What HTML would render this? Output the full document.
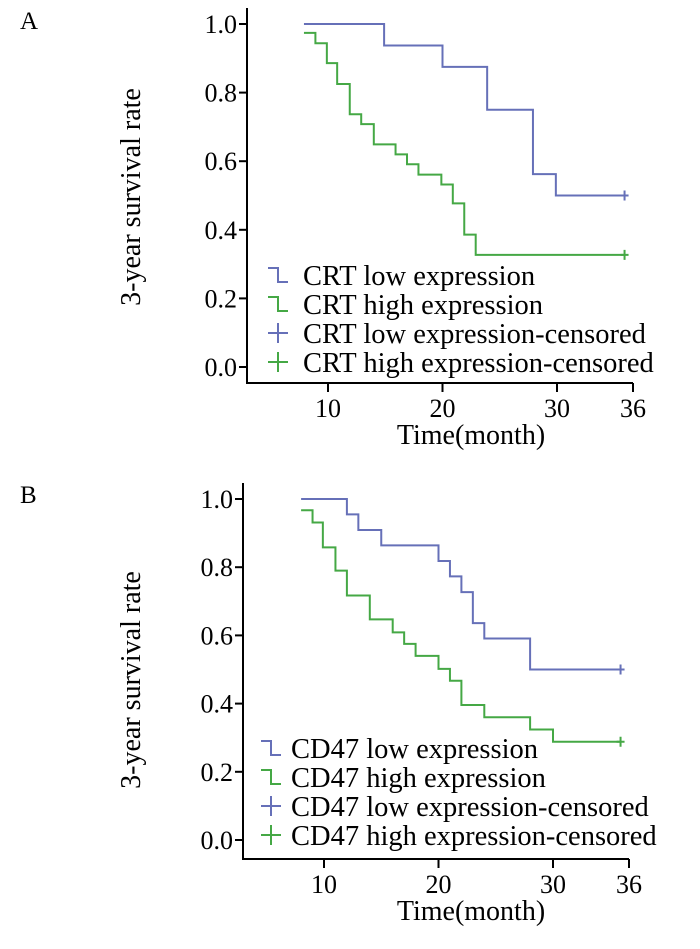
<!DOCTYPE html>
<html><head><meta charset="utf-8"><style>
html,body{margin:0;padding:0;background:#fff;}
svg{display:block;font-family:"Liberation Serif",serif;}
</style></head><body>
<svg id="chart" width="700" height="949" viewBox="0 0 700 949" xmlns="http://www.w3.org/2000/svg"></svg>
<script>
// Panel A (CRT)
const aLowTimes = [7.9, 14.9, 20.0, 23.9, 27.9, 29.9];
const aLowValues = [1.0, 0.9375, 0.875, 0.75, 0.5625, 0.5];
const aHighTimes = [7.9, 8.9, 9.9, 10.8, 11.9, 12.9, 14.0, 15.9, 16.9, 17.9, 19.9, 20.9, 21.9, 22.9];
const aHighValues = [0.974, 0.944, 0.886, 0.825, 0.737, 0.708, 0.649, 0.620, 0.591, 0.561, 0.532, 0.477, 0.386, 0.327];
// Panel B (CD47)
const bLowTimes = [8.0, 12.0, 13.0, 15.0, 20.0, 21.0, 22.0, 23.0, 24.0, 28.0];
const bLowValues = [1.0, 0.955, 0.909, 0.864, 0.818, 0.773, 0.727, 0.636, 0.591, 0.5];
const bHighTimes = [8.0, 9.0, 9.9, 11.0, 12.0, 14.0, 16.0, 17.0, 18.0, 20.0, 21.0, 22.0, 24.0, 28.0, 30.0];
const bHighValues = [0.967, 0.931, 0.858, 0.790, 0.717, 0.647, 0.609, 0.575, 0.540, 0.502, 0.467, 0.396, 0.360, 0.324, 0.288];
const endTime = 35.9;
const xTicks = [10, 20, 30, 36];
const yTicks = [0, 0.2, 0.4, 0.6, 0.8, 1.0];
const legendA = ["CRT low expression", "CRT high expression", "CRT low expression-censored", "CRT high expression-censored"];
const legendB = ["CD47 low expression", "CD47 high expression", "CD47 low expression-censored", "CD47 high expression-censored"];

const NS = "http://www.w3.org/2000/svg";
const svg = document.getElementById('chart');
const BLUE = "#6670b8", GREEN = "#45a845";
function mk(tag, attrs, parent) {
  const e = document.createElementNS(NS, tag);
  for (const k in attrs) e.setAttribute(k, attrs[k]);
  (parent || svg).appendChild(e);
  return e;
}

function panel(cfg) {
  const g = mk('g', {});
  
  
  const xs = t => cfg.x10 + (t - 10) * 11.45;
  const ys = v => cfg.y0 - v * cfg.ys;
  const lbl = mk('text', {x: 20, y: cfg.letterY, 'font-size': 25}, g);
  lbl.textContent = cfg.letter;
  
  
  const yAx = mk('line', {x1: cfg.ax, y1: cfg.axTop, x2: cfg.ax, y2: cfg.axBottom, stroke: '#000', 'stroke-width': 2}, g);
  
  
  const xAx = mk('line', {x1: cfg.ax - 1, y1: cfg.axBottom, x2: cfg.axRight, y2: cfg.axBottom, stroke: '#000', 'stroke-width': 2}, g);
  
  
  yTicks.forEach(v => {
    const y = ys(v);
    const tk = mk('line', {x1: cfg.ax - 8, y1: y, x2: cfg.ax, y2: y, stroke: '#000', 'stroke-width': 2}, g);
    
    
    const t = mk('text', {x: cfg.ax - 10, y: y + 9, 'font-size': 26, 'text-anchor': 'end'}, g);
    t.textContent = v.toFixed(1);
    
    
  });
  xTicks.forEach(v => {
    const x = v === 36 ? cfg.axRight : xs(v);
    const tk = mk('line', {x1: x, y1: cfg.axBottom, x2: x, y2: cfg.axBottom + 9, stroke: '#000', 'stroke-width': 2}, g);
    
    
    const t = mk('text', {x: x, y: cfg.axBottom + 34, 'font-size': 26, 'text-anchor': 'middle'}, g);
    t.textContent = v;
    
    
  });
  const xt = mk('text', {x: 471, y: cfg.axBottom + 61, 'font-size': 28, 'text-anchor': 'middle'}, g);
  xt.textContent = 'Time(month)';
  
  
  const yt = mk('text', {x: 0, y: 0, 'font-size': 28, 'text-anchor': 'middle', transform: `translate(140,${cfg.ytY}) rotate(-90)`}, g);
  yt.textContent = '3-year survival rate';
  
  
  function curve(times, vals, color, name) {
    let d = `M${xs(times[0])},${ys(vals[0])}`;
    for (let i = 1; i < times.length; i++) {
      d += ` H${xs(times[i])} V${ys(vals[i])}`;
    }
    d += ` H${xs(endTime)}`;
    const p = mk('path', {d: d, fill: 'none', stroke: color, 'stroke-width': 2}, g);
    
    
    const cx = xs(endTime), cy = ys(vals[vals.length - 1]);
    const c = mk('path', {d: `M${cx - 4},${cy} H${cx + 4} M${cx},${cy - 5} V${cy + 5}`, stroke: color, 'stroke-width': 2}, g);
    
    
  }
  curve(cfg.lowT, cfg.lowV, BLUE, 'low-expression-curve');
  curve(cfg.highT, cfg.highV, GREEN, 'high-expression-curve');
  cfg.legend.forEach((txt, i) => {
    const cy = cfg.legY + i * 29;
    const color = i % 2 === 0 ? BLUE : GREEN;
    const sx = cfg.legX;
    if (i < 2) {
      const s = mk('path', {d: `M${sx},${cy - 7} H${sx + 10} V${cy + 7} H${sx + 20}`, fill: 'none', stroke: color, 'stroke-width': 2}, g);
      
      
    } else {
      const s = mk('path', {d: `M${sx},${cy} H${sx + 20} M${sx + 10},${cy - 10} V${cy + 10}`, stroke: color, 'stroke-width': 2}, g);
      
      
    }
    const t = mk('text', {x: cfg.legTextX, y: cy + 10, 'font-size': 28.5}, g);
    t.textContent = txt;
    
    
  });
}

panel({name: 'panel-a-crt', letter: 'A', letterY: 29, x10: 328, y0: 367, ys: 343, ax: 247, axTop: 8, axBottom: 383, axRight: 633,
  ytY: 197, lowT: aLowTimes, lowV: aLowValues, highT: aHighTimes, highV: aHighValues, legend: legendA, legX: 268, legTextX: 303, legY: 275});
panel({name: 'panel-b-cd47', letter: 'B', letterY: 503, x10: 324, y0: 840, ys: 341, ax: 243, axTop: 483, axBottom: 859, axRight: 629,
  ytY: 680, lowT: bLowTimes, lowV: bLowValues, highT: bHighTimes, highV: bHighValues, legend: legendB, legX: 261, legTextX: 291, legY: 748});
</script>
</body></html>
